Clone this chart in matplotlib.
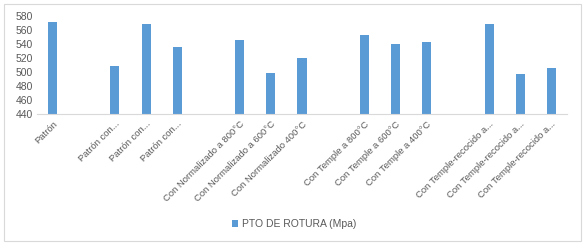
import numpy as np
import matplotlib
matplotlib.use('Agg')
import matplotlib.pyplot as plt
from matplotlib.patches import Rectangle

# categories (blank entries are empty slots in the original sheet)
categories = ['Patrón', '', 'Patrón con...', 'Patrón con...', 'Patrón con...', '',
              'Con Normalizado a 800°C', 'Con Normalizado a 600°C', 'Con Normalizado 400°C', '',
              'Con Temple a 800°C', 'Con Temple a 600°C', 'Con Temple a 400°C', '',
              'Con Temple-recocido a...', 'Con Temple-recocido a...', 'Con Temple-recocido a...']
rotura = [572, np.nan, 508, 569, 535, np.nan,
          546, 499, 520, np.nan,
          553, 540, 543, np.nan,
          569, 497, 506]
series_name = 'PTO DE ROTURA (Mpa)'
yticks = [440, 460, 480, 500, 520, 540, 560, 580]

blue = '#5B9BD5'
gray_txt = '#595959'

plt.rcParams['font.family'] = ['Liberation Sans', 'DejaVu Sans']

fig = plt.figure(figsize=(5.88, 2.46), dpi=100)
# outer chart frame
fig.patches.append(Rectangle((4 / 588, 1 - 241 / 246), 577 / 588, 237 / 246,
                             transform=fig.transFigure, fill=False,
                             edgecolor='#D9D9D9', linewidth=0.8))

ax = fig.add_axes([37 / 588, 1 - 114 / 246, 530 / 588, 98 / 246])
x = np.arange(len(categories))
vals = np.array(rotura, dtype=float)
ax.bar(x, np.nan_to_num(vals - 440), bottom=440, width=0.29, color=blue,
       label=series_name)

ax.set_xlim(-0.5, len(categories) - 0.5)
ax.set_ylim(440, 580)
ax.set_yticks(yticks)
ax.set_yticklabels([str(v) for v in yticks], fontsize=7.5, color=gray_txt)
ax.set_xticks(x)
ax.set_xticklabels(categories, rotation=45, ha='right', rotation_mode='anchor',
                   fontsize=6.8, color=gray_txt)
ax.tick_params(axis='x', length=0, pad=4)
ax.tick_params(axis='y', length=0, pad=3)

for s in ['top', 'right', 'left']:
    ax.spines[s].set_visible(False)
ax.spines['bottom'].set_color('#D9D9D9')
ax.spines['bottom'].set_linewidth(0.8)

leg = fig.legend(loc='center', bbox_to_anchor=(0.5, 1 - 224 / 246), frameon=False,
                 fontsize=7.5, handlelength=0.6, handleheight=0.6, handletextpad=0.4)
for t in leg.get_texts():
    t.set_color(gray_txt)

fig.savefig('out.png', dpi=100)
